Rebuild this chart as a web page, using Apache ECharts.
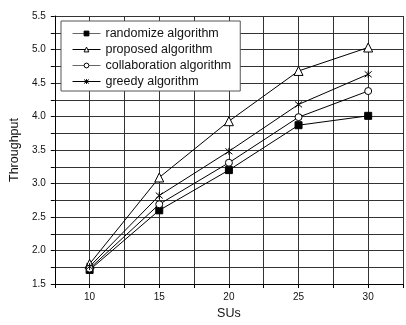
<!DOCTYPE html>
<html>
<head>
<meta charset="utf-8">
<script src="https://cdn.jsdelivr.net/npm/echarts@6/dist/echarts.min.js"></script>
<style>
  html, body { margin: 0; padding: 0; background: #fff; }
  #chart { width: 406px; height: 325px; }
</style>
</head>
<body>
<div id="chart"></div>
<script>
const sus = [10, 15, 20, 25, 30];
const randomize = [1.71, 2.60, 3.20, 3.87, 4.01];
const proposed = [1.80, 3.09, 3.93, 4.68, 5.03];
const collaboration = [1.73, 2.69, 3.31, 3.99, 4.38];
const greedy = [1.76, 2.82, 3.48, 4.18, 4.63];

// asterisk: an x plus a vertical stroke
const starPath = "path://M0,0L10,10M0,10L10,0M5,-1L5,11";

const chart = echarts.init(document.getElementById("chart"), null, { renderer: "canvas" });

const font = "Liberation Sans, Arial, sans-serif";
const pair = (ys) => sus.map((x, i) => [x, ys[i]]);

const mk = (name, ys, symbol, size, fill) => ({
  name,
  type: "line",
  data: pair(ys),
  symbol,
  symbolSize: size,
  showSymbol: true,
  lineStyle: { color: "#000", width: 1 },
  itemStyle: { color: fill, borderColor: "#000", borderWidth: 1 }
});

chart.setOption({
  animation: false,
  textStyle: { fontFamily: font },
  grid: { left: 52, right: -5, top: 16, bottom: 41 },
  legend: {
    left: 61,
    top: 21,
    orient: "vertical",
    padding: [6, 9, 3, 11],
    itemGap: 3,
    itemWidth: 28,
    itemHeight: 6,
    borderColor: "#555",
    borderWidth: 1,
    backgroundColor: "#fff",
    lineStyle: { width: 1 },
    itemStyle: { borderWidth: 1 },
    textStyle: { fontSize: 12.5, color: "#111", fontFamily: font },
    data: [
      { name: "randomize algorithm", lineStyle: { color: "#666" } },
      { name: "proposed algorithm" },
      { name: "collaboration algorithm", lineStyle: { color: "#666" } },
      { name: "greedy algorithm" }
    ]
  },
  xAxis: {
    type: "value",
    min: 7.5,
    max: 32.5,
    interval: 2.5,
    name: "SUs",
    nameLocation: "middle",
    nameGap: 21,
    nameTextStyle: { fontSize: 12.5, color: "#111" },
    axisLine: { lineStyle: { color: "#000", width: 1 } },
    axisTick: { inside: false, length: 4, lineStyle: { color: "#000" } },
    axisLabel: {
      fontSize: 10,
      color: "#111",
      margin: 8,
      formatter: (v) => (v % 5 === 0 ? String(v) : "")
    },
    splitLine: { show: true, lineStyle: { color: "#333", width: 1 } }
  },
  yAxis: {
    type: "value",
    min: 1.5,
    max: 5.5,
    interval: 0.25,
    name: "Throughput",
    nameLocation: "middle",
    nameGap: 31,
    nameTextStyle: { fontSize: 12.5, color: "#111" },
    axisLine: { show: true, lineStyle: { color: "#000", width: 1 } },
    axisTick: { show: true, length: 4, lineStyle: { color: "#000" } },
    axisLabel: {
      fontSize: 10,
      color: "#111",
      margin: 9,
      formatter: (v) => (Math.abs(v * 2 - Math.round(v * 2)) < 1e-6 ? v.toFixed(1) : "")
    },
    splitLine: { show: true, lineStyle: { color: "#333", width: 1 } }
  },
  series: [
    mk("randomize algorithm", randomize, "rect", 7, "#000"),
    mk("proposed algorithm", proposed, "triangle", 9, "#fff"),
    mk("collaboration algorithm", collaboration, "circle", 7, "#fff"),
    mk("greedy algorithm", greedy, starPath, 7, "#000")
  ]
});
</script>
</body>
</html>
